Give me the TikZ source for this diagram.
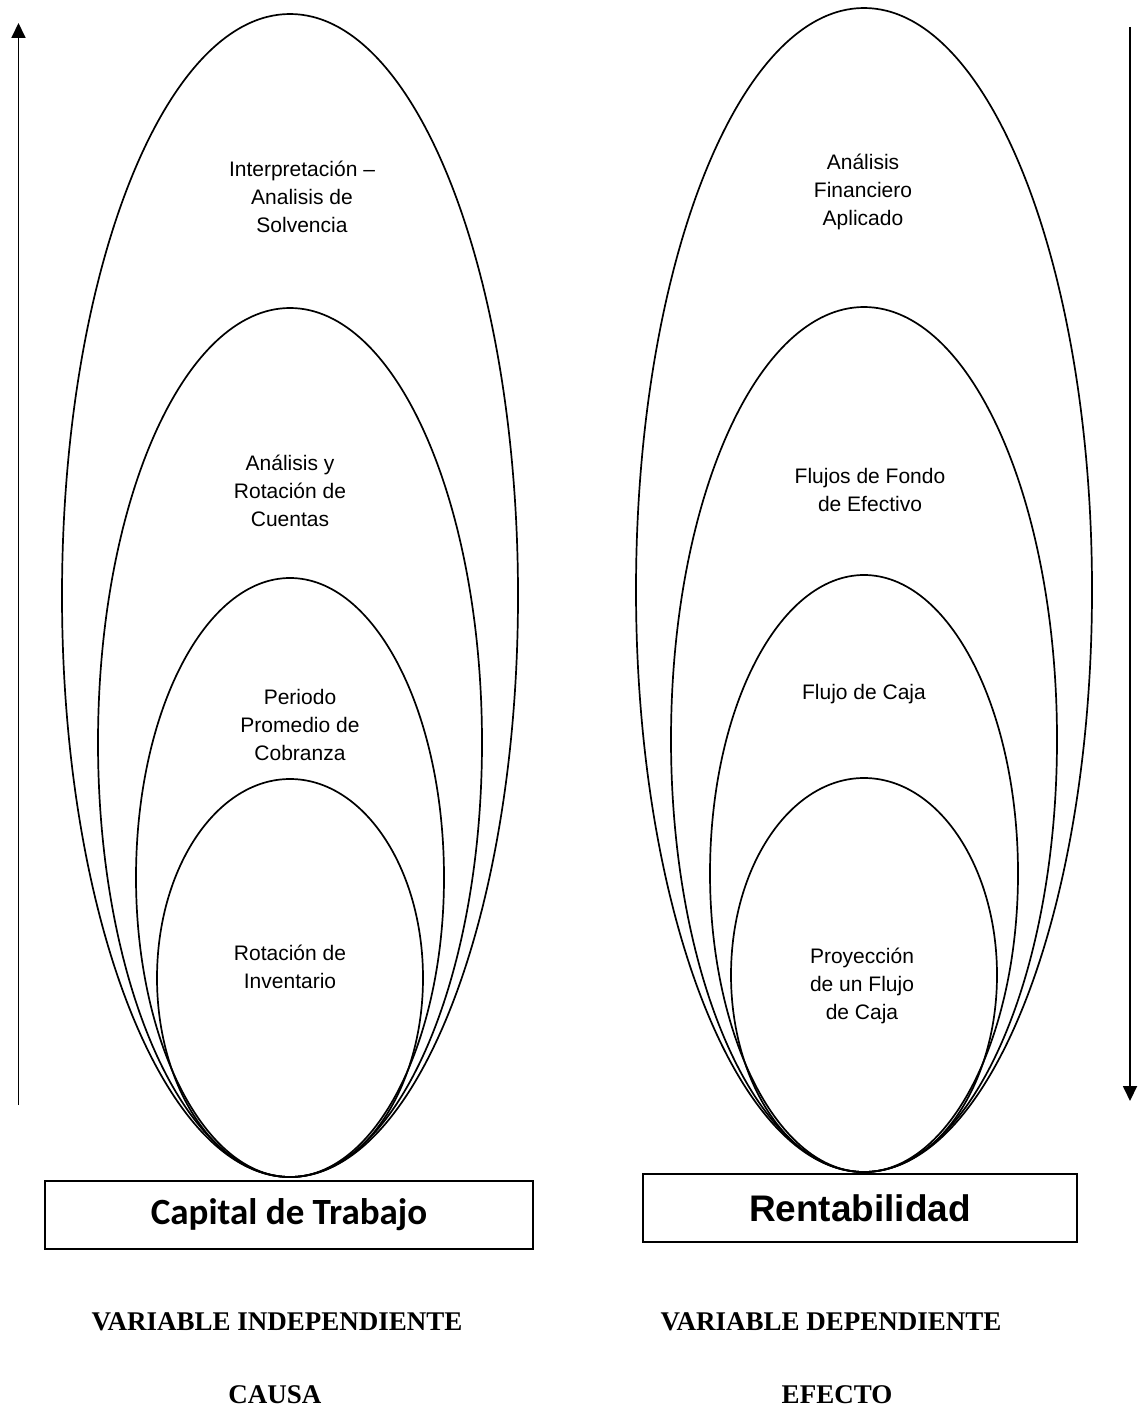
\documentclass[tikz,border=0pt]{standalone}
\usepackage{fontspec}
\setmainfont{Liberation Serif}
\newfontfamily\arialf{Liberation Sans}
\newfontfamily\calibrif{Carlito}
\usetikzlibrary{shapes.geometric,arrows.meta}
\begin{document}
\begin{tikzpicture}[x=1pt,y=-1pt,
  ell/.style={draw,ellipse,line width=1.7pt,inner sep=0pt,outer sep=0pt},
  lbl/.style={font=\arialf\fontsize{21}{28}\selectfont,align=center,inner sep=0pt},
  boxn/.style={draw,line width=1.8pt,inner sep=0pt,minimum height=68pt},
  var/.style={font=\bfseries\fontsize{27}{30}\selectfont,anchor=base,inner sep=0pt},
  arr/.style={line width=1.8pt,-{Triangle[width=14pt,length=15pt]}}]
\useasboundingbox[fill=white] (0,0) rectangle (1144,1407);
% left group
\node[ell,minimum width=456pt,minimum height=1163pt] (l1) at (290,595.5) {};
\node[ell,minimum width=384pt,minimum height=869pt] (l2) at (290,742.5) {};
\node[ell,minimum width=308pt,minimum height=599pt] (l3) at (290,877.5) {};
\node[ell,minimum width=266pt,minimum height=398pt] (l4) at (290,978) {};
% right group
\node[ell,minimum width=456pt,minimum height=1164pt] (r1) at (864,590) {};
\node[ell,minimum width=386pt,minimum height=865pt] (r2) at (864,739.5) {};
\node[ell,minimum width=308pt,minimum height=597pt] (r3) at (864,873.5) {};
\node[ell,minimum width=266pt,minimum height=394pt] (r4) at (864,975) {};
% labels
\node[lbl] (tl1) at (302,197) {Interpretación –\\Analisis de\\Solvencia};
\node[lbl] (tl2) at (290,491) {Análisis y\\Rotación de\\Cuentas};
\node[lbl] (tl3) at (300,725) {Periodo\\Promedio de\\Cobranza};
\node[lbl] (tl4) at (290,967) {Rotación de\\Inventario};
\node[lbl] (tr1) at (863,192) {Análisis\\Financiero\\Aplicado};
\node[lbl] (tr2) at (870,490) {Flujos de Fondo\\de Efectivo};
\node[lbl] (tr3) at (864,694) {Flujo de Caja};
\node[lbl] (tr4) at (862,986) {Proyección\\de un Flujo\\de Caja};
% boxes
\node[boxn,minimum width=488pt,font=\calibrif\bfseries\fontsize{37}{40}\selectfont] (capital) at (289,1215) {Capital de Trabajo};
\node[boxn,minimum width=434pt,font=\arialf\bfseries\fontsize{37}{40}\selectfont] (rent) at (860,1208) {Rentabilidad};
% arrows
\coordinate (la0) at (18.5,1105);
\coordinate (la1) at (18.5,23);
\coordinate (ra0) at (1130,27);
\coordinate (ra1) at (1130,1101);
\draw[arr] (la0) -- (la1);
\draw[arr] (ra0) -- (ra1);
% bottom texts
\node[var] (vi) at (277,1330) {VARIABLE INDEPENDIENTE};
\node[var] (vd) at (831,1330) {VARIABLE DEPENDIENTE};
\node[var] (causa) at (275,1403) {CAUSA};
\node[var] (efecto) at (837,1403) {EFECTO};
\end{tikzpicture}
\end{document}
